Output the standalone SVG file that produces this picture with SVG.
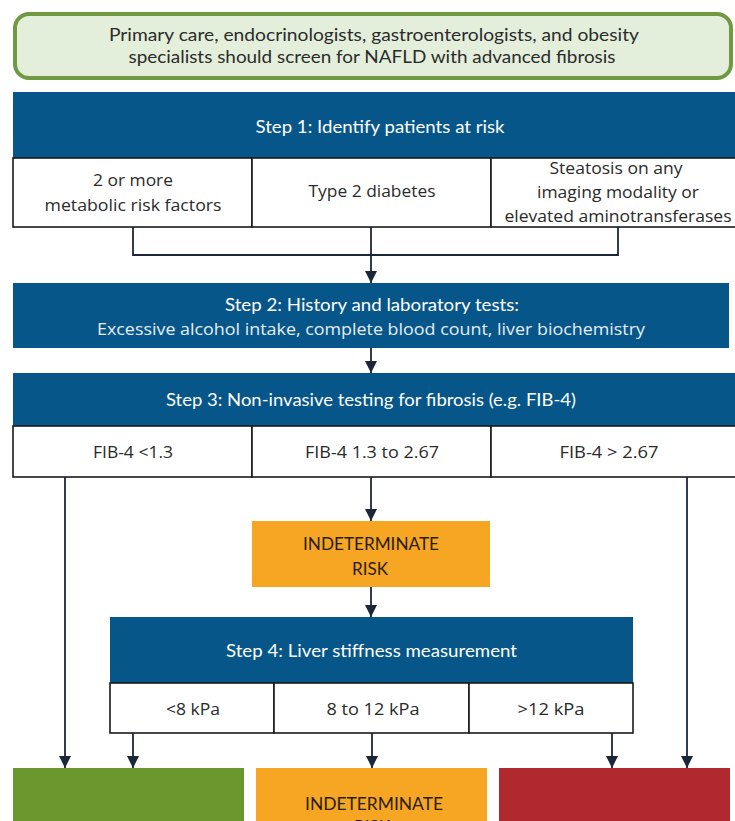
<svg xmlns="http://www.w3.org/2000/svg" width="735" height="821" viewBox="0 0 735 821">
<defs>
<style>
.hdr{fill:#065689}
.cell{fill:#ffffff;stroke:#1a1a1a;stroke-width:1.6}
.ht{font-family:Lato,"Liberation Sans",sans-serif;font-size:18px;fill:#ffffff;text-anchor:middle}
.ct{font-family:"Open Sans","Liberation Sans",sans-serif;font-size:17px;fill:#2a2a2a;text-anchor:middle}
.lt{font-family:"Open Sans","Liberation Sans",sans-serif;font-size:17px;fill:#e6eef5;text-anchor:middle}
.ot{font-family:Lato,"Liberation Sans",sans-serif;font-size:18px;fill:#2a1d0a;text-anchor:middle}
.gt{font-family:Lato,"Liberation Sans",sans-serif;font-size:18px;fill:#2b2b2b;text-anchor:middle}
.con{fill:none;stroke:#1b2638;stroke-width:1.8}
</style>
<marker id="ah" markerUnits="userSpaceOnUse" markerWidth="12" markerHeight="12" viewBox="0 0 12 12" refX="12" refY="6" orient="auto">
<path d="M0,0 L12,6 L0,12 Z" fill="#1b2638"/>
</marker>
</defs>
<rect width="735" height="821" fill="#ffffff"/>

<g id="screen">
<rect x="15" y="14" width="716" height="64" rx="14" fill="#e4efdb" stroke="#6f9a41" stroke-width="4"/>
<text class="gt" x="374" y="41" textLength="530" lengthAdjust="spacingAndGlyphs">Primary care, endocrinologists, gastroenterologists, and obesity</text>
<text class="gt" x="372" y="63" textLength="487" lengthAdjust="spacingAndGlyphs">specialists should screen for NAFLD with advanced fibrosis</text>
</g>

<g id="step1">
<rect class="hdr" x="13" y="92" width="722" height="66"/>
<text class="ht" x="380" y="133" textLength="249" lengthAdjust="spacingAndGlyphs">Step 1: Identify patients at risk</text>
</g>
<g id="risk-factors">
<rect class="cell" x="13" y="158" width="239" height="69"/>
<text class="ct" x="133" y="186" textLength="80" lengthAdjust="spacingAndGlyphs">2 or more</text>
<text class="ct" x="133" y="211" textLength="177" lengthAdjust="spacingAndGlyphs">metabolic risk factors</text>
</g>
<g id="diabetes">
<rect class="cell" x="252" y="158" width="239" height="69"/>
<text class="ct" x="372" y="197" textLength="127" lengthAdjust="spacingAndGlyphs">Type 2 diabetes</text>
</g>
<g id="steatosis">
<rect class="cell" x="491" y="158" width="246" height="69"/>
<text class="ct" x="616" y="174" textLength="133" lengthAdjust="spacingAndGlyphs">Steatosis on any</text>
<text class="ct" x="618" y="198" textLength="162" lengthAdjust="spacingAndGlyphs">imaging modality or</text>
<text class="ct" x="618" y="222" textLength="227" lengthAdjust="spacingAndGlyphs">elevated aminotransferases</text>
</g>

<g id="step2">
<rect class="hdr" x="13" y="283" width="716" height="65"/>
<text class="ht" x="372" y="311" textLength="294" lengthAdjust="spacingAndGlyphs">Step 2: History and laboratory tests:</text>
<text class="lt" x="371" y="335" textLength="548" lengthAdjust="spacingAndGlyphs">Excessive alcohol intake, complete blood count, liver biochemistry</text>
</g>

<g id="step3">
<rect class="hdr" x="13" y="373" width="722" height="53"/>
<text class="ht" x="371" y="406" textLength="410" lengthAdjust="spacingAndGlyphs">Step 3: Non-invasive testing for fibrosis (e.g. FIB-4)</text>
</g>
<g id="fib-low">
<rect class="cell" x="13" y="426" width="239" height="51"/>
<text class="ct" x="133" y="458" textLength="80" lengthAdjust="spacingAndGlyphs">FIB-4 &lt;1.3</text>
</g>
<g id="fib-mid">
<rect class="cell" x="252" y="426" width="239" height="51"/>
<text class="ct" x="372" y="458" textLength="134" lengthAdjust="spacingAndGlyphs">FIB-4 1.3 to 2.67</text>
</g>
<g id="fib-high">
<rect class="cell" x="491" y="426" width="246" height="51"/>
<text class="ct" x="609" y="458" textLength="99" lengthAdjust="spacingAndGlyphs">FIB-4 &gt; 2.67</text>
</g>

<g id="indeterminate1">
<rect x="252" y="521" width="238" height="66" fill="#f6a623"/>
<text class="ot" x="371" y="550" textLength="136" lengthAdjust="spacingAndGlyphs">INDETERMINATE</text>
<text class="ot" x="370" y="575" textLength="36" lengthAdjust="spacingAndGlyphs">RISK</text>
</g>

<g id="step4">
<rect class="hdr" x="110" y="617" width="523" height="66"/>
<text class="ht" x="371.5" y="657" textLength="291" lengthAdjust="spacingAndGlyphs">Step 4: Liver stiffness measurement</text>
</g>
<g id="lsm-low">
<rect class="cell" x="110" y="683" width="164" height="50"/>
<text class="ct" x="193" y="715" textLength="54" lengthAdjust="spacingAndGlyphs">&lt;8 kPa</text>
</g>
<g id="lsm-mid">
<rect class="cell" x="274" y="683" width="195" height="50"/>
<text class="ct" x="373" y="715" textLength="93" lengthAdjust="spacingAndGlyphs">8 to 12 kPa</text>
</g>
<g id="lsm-high">
<rect class="cell" x="469" y="683" width="164" height="50"/>
<text class="ct" x="551" y="715" textLength="67" lengthAdjust="spacingAndGlyphs">&gt;12 kPa</text>
</g>

<g id="low-risk">
<rect x="13" y="768" width="231" height="60" fill="#6a982f"/>
</g>
<g id="indeterminate2">
<rect x="256" y="768" width="231" height="60" fill="#f6a623"/>
<text class="ot" x="374" y="810" textLength="138" lengthAdjust="spacingAndGlyphs">INDETERMINATE</text>
<text class="ot" x="372" y="833" textLength="36" lengthAdjust="spacingAndGlyphs">RISK</text>
</g>
<g id="high-risk">
<rect x="499" y="768" width="231" height="60" fill="#b0292f"/>
</g>

<g id="connectors">
<path class="con" d="M133,227 V255 H618 V227"/>
<path class="con" d="M371,227 V283" marker-end="url(#ah)"/>
<path class="con" d="M371,348 V373" marker-end="url(#ah)"/>
<path class="con" d="M65,477 V768" marker-end="url(#ah)"/>
<path class="con" d="M371,477 V521" marker-end="url(#ah)"/>
<path class="con" d="M687,477 V768" marker-end="url(#ah)"/>
<path class="con" d="M371,587 V617" marker-end="url(#ah)"/>
<path class="con" d="M133,733 V768" marker-end="url(#ah)"/>
<path class="con" d="M372,733 V768" marker-end="url(#ah)"/>
<path class="con" d="M612,733 V768" marker-end="url(#ah)"/>
</g>
</svg>
